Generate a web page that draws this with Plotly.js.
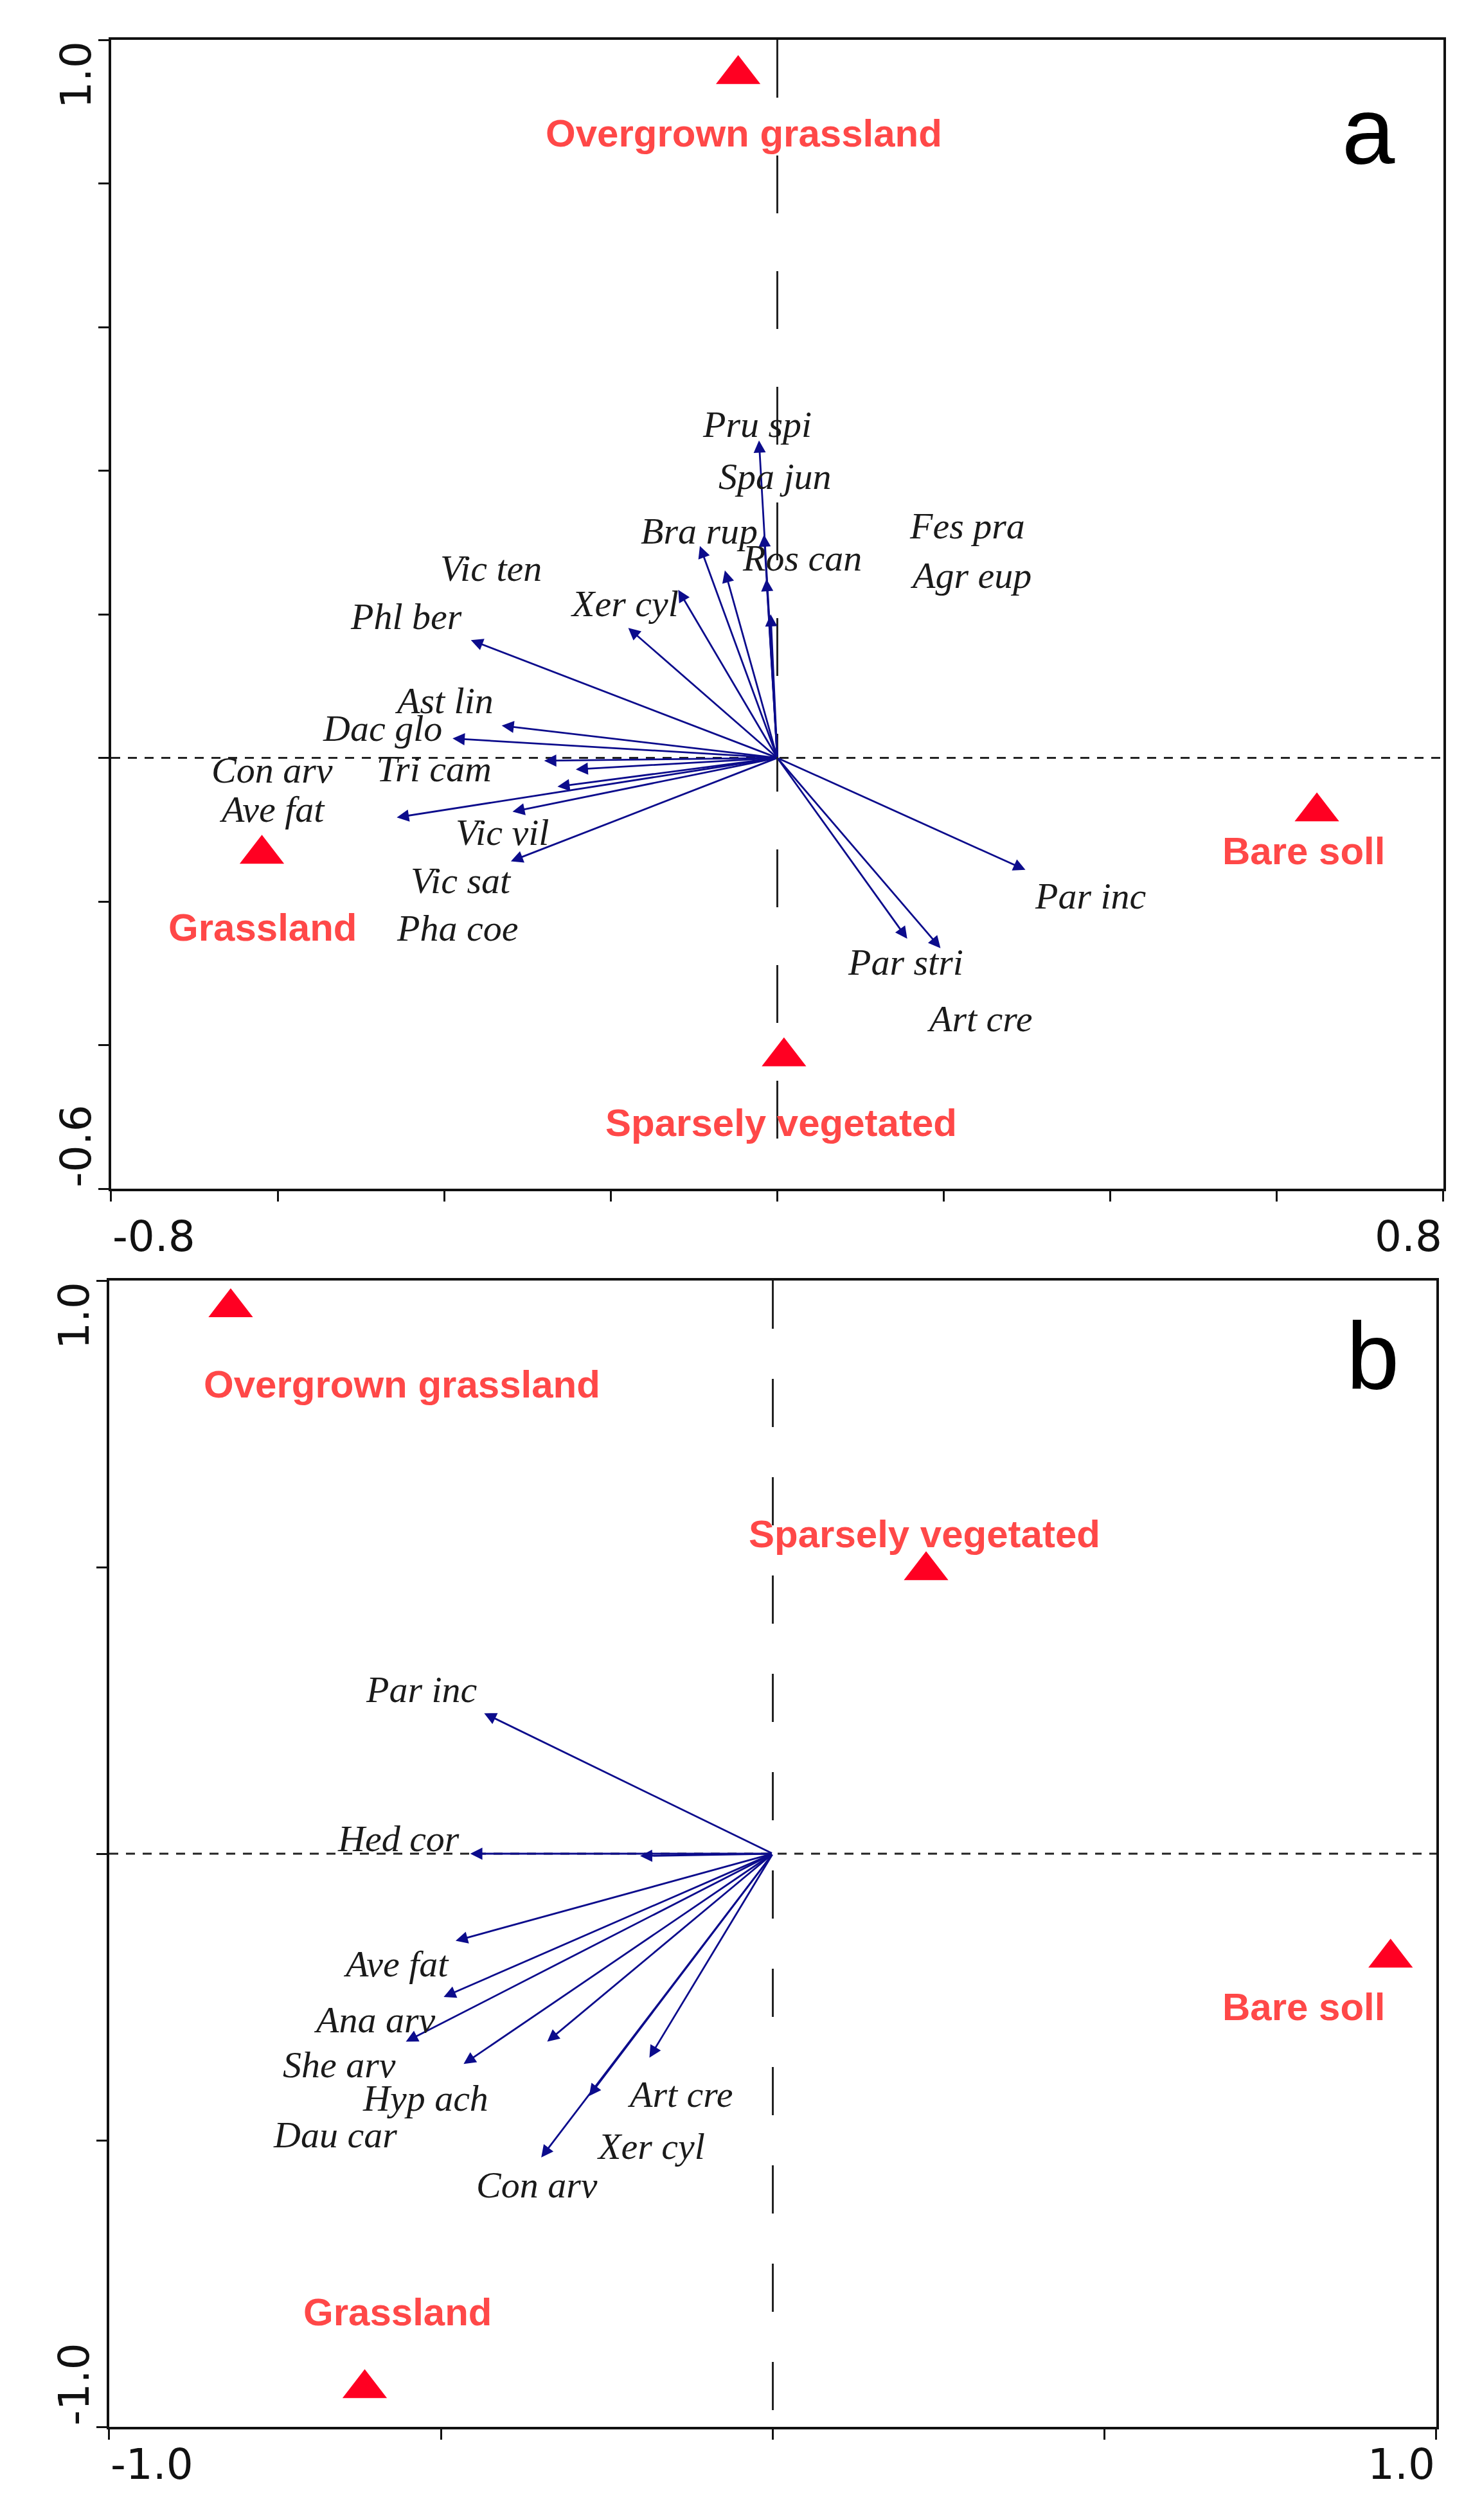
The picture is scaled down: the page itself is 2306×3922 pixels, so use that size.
<!DOCTYPE html>
<html><head><meta charset="utf-8">
<script src="https://cdn.plot.ly/plotly-3.0.1.min.js"></script>
<style>html,body{margin:0;padding:0;background:#fff}</style>
</head><body><div id="chart" style="width:2306px;height:3922px"></div>
<script>
// ---------- Panel a data ----------
const aXRange = [-0.8, 0.8];
const aYRange = [-0.6, 1.0];
const aXTicks = [-0.8, -0.6, -0.4, -0.2, 0, 0.2, 0.4, 0.6, 0.8];
const aYTicks = [-0.6, -0.4, -0.2, 0, 0.2, 0.4, 0.6, 0.8, 1.0];
const aXTickLabels = ["-0.8", "0.8"];
const aYTickLabels = ["1.0", "-0.6"];

const aArrowX = [-0.022, -0.016, -0.013, -0.093, -0.063, -0.119, -0.179, -0.368, -0.331, -0.390, -0.280, -0.242, -0.264, -0.318, -0.457, -0.320, 0.298, 0.156, 0.196, -0.008];
const aArrowY = [0.442, 0.311, 0.249, 0.295, 0.261, 0.234, 0.181, 0.164, 0.045, 0.027, -0.004, -0.016, -0.040, -0.075, -0.083, -0.144, -0.156, -0.252, -0.265, 0.200];

const aSpecies = ["Pru spi", "Spa jun", "Bra rup", "Ros can", "Fes pra", "Agr eup", "Vic ten", "Xer cyl", "Phl ber", "Ast lin", "Dac glo", "Con arv", "Tri cam", "Ave fat", "Vic vil", "Vic sat", "Pha coe", "Par inc", "Par stri", "Art cre"];
const aSpeciesX = [-0.024, -0.003, -0.094, 0.030, 0.228, 0.232, -0.344, -0.183, -0.446, -0.400, -0.474, -0.607, -0.412, -0.607, -0.330, -0.380, -0.384, 0.376, 0.154, 0.243];
const aSpeciesY = [0.464, 0.392, 0.316, 0.278, 0.323, 0.254, 0.264, 0.215, 0.197, 0.080, 0.041, -0.017, -0.015, -0.072, -0.104, -0.171, -0.237, -0.192, -0.285, -0.363];

const aSites = ["Overgrown grassland", "Grassland", "Bare soll", "Sparsely vegetated"];
const aSiteX = [-0.047, -0.619, 0.648, 0.008];
const aSiteY = [0.952, -0.134, -0.075, -0.416];
const aSiteLabelX = [-0.040, -0.618, 0.632, 0.005];
const aSiteLabelY = [0.870, -0.236, -0.130, -0.508];

// ---------- Panel b data ----------
const bXRange = [-1.0, 1.0];
const bYRange = [-1.0, 1.0];
const bXTicks = [-1.0, -0.5, 0, 0.5, 1.0];
const bYTicks = [-1.0, -0.5, 0, 0.5, 1.0];
const bXTickLabels = ["-1.0", "1.0"];
const bYTickLabels = ["1.0", "-1.0"];

const bArrowX = [-0.435, -0.456, -0.200, -0.478, -0.496, -0.553, -0.466, -0.340, -0.277, -0.349, -0.186];
const bArrowY = [0.245, 0.000, -0.004, -0.152, -0.250, -0.328, -0.367, -0.328, -0.423, -0.530, -0.356];

const bSpecies = ["Par inc", "Hed cor", "Ave fat", "Ana arv", "She arv", "Hyp ach", "Dau car", "Con arv", "Xer cyl", "Art cre"];
const bSpeciesX = [-0.529, -0.564, -0.568, -0.600, -0.653, -0.523, -0.660, -0.355, -0.184, -0.139];
const bSpeciesY = [0.286, 0.026, -0.192, -0.290, -0.368, -0.427, -0.490, -0.578, -0.511, -0.420];

const bSites = ["Overgrown grassland", "Sparsely vegetated", "Bare soll", "Grassland"];
const bSiteX = [-0.817, 0.231, 0.931, -0.615];
const bSiteY = [0.953, 0.494, -0.182, -0.933];
const bSiteLabelX = [-0.559, 0.229, 0.800, -0.566];
const bSiteLabelY = [0.819, 0.558, -0.267, -0.800];

const panelLetters = ["a", "b"];

// ---------- styles ----------
const ARROW_COLOR = "#0c0c8c";
const SITE_MARKER = "#ff0022";
const SITE_TEXT = "#ff4848";
const SPECIES_FONT = {family: "Liberation Serif, Times New Roman, serif", size: 58, color: "#1a1a1a"};
const SITE_FONT = {family: "Liberation Sans, Arial, sans-serif", size: 60, color: SITE_TEXT};
const TICK_FONT = {family: "DejaVu Sans, Arial, sans-serif", size: 66, color: "#111"};
const LETTER_FONT = {family: "Liberation Sans, Arial, sans-serif", size: 148, color: "#000"};

function siteTrace(xs, ys, xa, ya) {
  return {type: "scatter", mode: "markers", x: xs, y: ys, xaxis: xa, yaxis: ya,
    marker: {symbol: "triangle-up", size: 60, color: SITE_MARKER, line: {width: 0}},
    cliponaxis: false, hoverinfo: "skip", showlegend: false};
}

const annotations = [];
const shapes = [];

function addPanel(xr, yr, arrX, arrY, spNames, spX, spY, siteNames, siteLX, siteLY, xTickLabs, yTickLabs, xref, yref, letter, letterPos, vdash, xTickShift) {
  // arrows from origin
  for (let i = 0; i < arrX.length; i++) {
    annotations.push({xref: xref, yref: yref, axref: xref, ayref: yref,
      x: arrX[i], y: arrY[i], ax: 0, ay: 0, text: "", showarrow: true,
      arrowhead: 2, arrowsize: 1.35, arrowwidth: 2.8, arrowcolor: ARROW_COLOR, standoff: 0, startstandoff: 0});
  }
  for (let i = 0; i < spNames.length; i++) {
    annotations.push({xref: xref, yref: yref, x: spX[i], y: spY[i], text: "<i>" + spNames[i] + "</i>",
      showarrow: false, xanchor: "center", yanchor: "middle", font: SPECIES_FONT});
  }
  for (let i = 0; i < siteNames.length; i++) {
    annotations.push({xref: xref, yref: yref, x: siteLX[i], y: siteLY[i], text: "<b>" + siteNames[i] + "</b>",
      showarrow: false, xanchor: "center", yanchor: "middle", font: SITE_FONT});
  }
  // tick labels
  annotations.push({xref: xref, yref: yref + " domain", x: xr[0], y: 0, text: xTickLabs[0], showarrow: false,
    xanchor: "left", yanchor: "top", yshift: xTickShift, font: TICK_FONT});
  annotations.push({xref: xref, yref: yref + " domain", x: xr[1], y: 0, text: xTickLabs[1], showarrow: false,
    xanchor: "right", yanchor: "top", yshift: xTickShift, font: TICK_FONT});
  annotations.push({xref: xref + " domain", yref: yref, x: 0, y: yr[1], text: yTickLabs[0], showarrow: false,
    textangle: -90, xanchor: "right", yanchor: "top", xshift: -14, font: TICK_FONT});
  annotations.push({xref: xref + " domain", yref: yref, x: 0, y: yr[0], text: yTickLabs[1], showarrow: false,
    textangle: -90, xanchor: "right", yanchor: "bottom", xshift: -14, font: TICK_FONT});
  // panel letter
  annotations.push({xref: xref + " domain", yref: yref + " domain", x: letterPos[0], y: letterPos[1], text: letter,
    showarrow: false, xanchor: "center", yanchor: "middle", font: LETTER_FONT});
  // dashed zero lines
  shapes.push({type: "line", xref: xref, yref: yref, x0: 0, x1: 0, y0: yr[1], y1: yr[0], layer: "below",
    line: {color: "#222", width: 3, dash: vdash}});
  shapes.push({type: "line", xref: xref, yref: yref, x0: xr[0], x1: xr[1], y0: 0, y1: 0, layer: "below",
    line: {color: "#222", width: 3, dash: "14px,12px"}});
}

addPanel(aXRange, aYRange, aArrowX, aArrowY, aSpecies, aSpeciesX, aSpeciesY, aSites, aSiteLabelX, aSiteLabelY,
  aXTickLabels, aYTickLabels, "x", "y", panelLetters[0], [0.9436, 0.9206], "90px,90px", -34);
addPanel(bXRange, bYRange, bArrowX, bArrowY, bSpecies, bSpeciesX, bSpeciesY, bSites, bSiteLabelX, bSiteLabelY,
  bXTickLabels, bYTickLabels, "x2", "y2", panelLetters[1], [0.952, 0.934], "75px,78px", -18);

function axisStyle(extra) {
  return Object.assign({showgrid: false, zeroline: false, showline: true, linecolor: "#111", linewidth: 4,
    mirror: true, ticks: "outside", ticklen: 16, tickwidth: 3, tickcolor: "#111", showticklabels: false,
    fixedrange: true}, extra);
}

const layout = {
  width: 2306, height: 3922,
  margin: {l: 0, r: 0, t: 0, b: 0, pad: 0},
  paper_bgcolor: "#fff", plot_bgcolor: "#fff",
  showlegend: false,
  xaxis: axisStyle({domain: [0.07502, 0.97398], range: aXRange, tickvals: aXTicks, anchor: "y"}),
  yaxis: axisStyle({domain: [0.52830, 0.98419], range: aYRange, tickvals: aYTicks, anchor: "x"}),
  xaxis2: axisStyle({domain: [0.07372, 0.96921], range: bXRange, tickvals: bXTicks, anchor: "y2"}),
  yaxis2: axisStyle({domain: [0.03697, 0.49184], range: bYRange, tickvals: bYTicks, anchor: "x2"}),
  annotations: annotations,
  shapes: shapes
};

const data = [
  siteTrace(aSiteX, aSiteY, "x", "y"),
  siteTrace(bSiteX, bSiteY, "x2", "y2")
];

Plotly.newPlot("chart", data, layout, {staticPlot: true, displayModeBar: false});
</script></body></html>
